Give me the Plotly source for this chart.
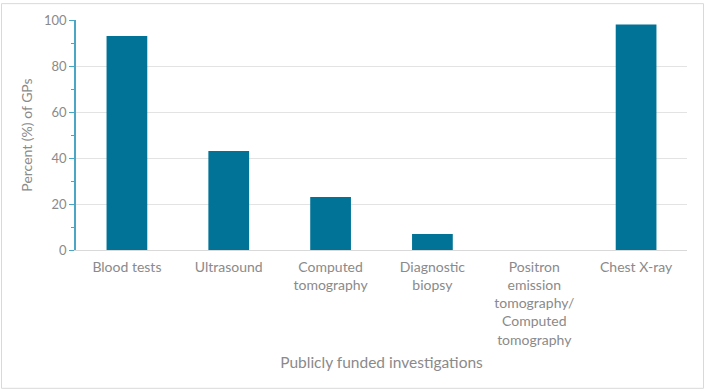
import plotly.graph_objects as go

categories = ["Blood tests", "Ultrasound", "Computed<br>tomography", "Diagnostic<br>biopsy",
              "Positron<br>emission<br>tomography/<br>Computed<br>tomography", "Chest X-ray"]
values = [93, 43, 23, 7, 0, 98]
y_ticks = [0, 20, 40, 60, 80, 100]

W, H = 705, 391
L, R, T, B = 76, 18, 18, 141
pw, ph = W - L - R, H - T - B

fig = go.Figure(go.Bar(x=categories, y=values, marker=dict(color="#007396", line=dict(width=0)),
                       width=0.4))

grey = "#8a8a8a"
fig.update_layout(
    width=W, height=H,
    margin=dict(l=L, r=R, t=T, b=B),
    paper_bgcolor="white", plot_bgcolor="white",
    font=dict(family="Lato, Open Sans, sans-serif", color=grey, size=13),
    showlegend=False,
    bargap=0.6,
    xaxis=dict(
        tickfont=dict(size=14, color=grey),
        ticklabelstandoff=4,
        title=dict(text="Publicly funded investigations", font=dict(size=15.5, color=grey), standoff=10),
        showline=True, linecolor="#d9d9d9", linewidth=1,
        ticks="", showgrid=False,
    ),
    yaxis=dict(
        range=[0, 100], tickvals=y_ticks,
        tickfont=dict(size=13, color=grey),
        title=dict(text="Percent (%) of GPs", font=dict(size=14, color=grey), standoff=8),
        showline=True, linecolor="#4aa6c4", linewidth=1.5,
        ticks="outside", ticklen=5, tickcolor="#4aa6c4",
        minor=dict(dtick=10, ticks="outside", ticklen=3, tickcolor="#4aa6c4", showgrid=False),
        showgrid=True, gridcolor="#e3e3e3", zeroline=False,
    ),
    shapes=[dict(type="rect", xref="paper", yref="paper",
                 x0=(1.5 - L) / pw, x1=(W - 1.5 - L) / pw,
                 y0=-(H - 1.5 - T - ph) / ph, y1=1 + (T - 1.5) / ph,
                 line=dict(color="#d9d9d9", width=1), fillcolor="rgba(0,0,0,0)", layer="below")],
)

fig.write_html("out.html")
